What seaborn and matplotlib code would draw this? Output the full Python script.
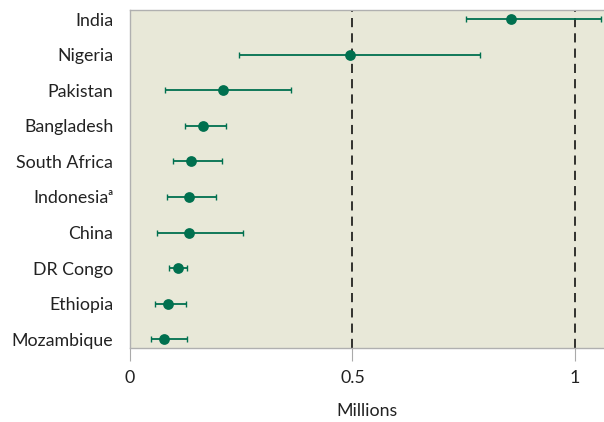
import numpy as np
import pandas as pd
import seaborn as sns
import matplotlib.pyplot as plt

# values in millions
countries = ['India', 'Nigeria', 'Pakistan', 'Bangladesh', 'South Africa',
             'Indonesia\u1d43', 'China', 'DR Congo', 'Ethiopia', 'Mozambique']
estimate = [0.856, 0.494, 0.209, 0.164, 0.137, 0.133, 0.132, 0.108, 0.085, 0.077]
lower = [0.755, 0.245, 0.079, 0.124, 0.097, 0.083, 0.061, 0.088, 0.056, 0.047]
upper = [1.058, 0.787, 0.362, 0.216, 0.207, 0.193, 0.254, 0.128, 0.126, 0.128]

df = pd.DataFrame({'country': countries, 'estimate': estimate,
                   'lower': lower, 'upper': upper})

sns.set_theme(style='white')
plt.rcParams['font.family'] = ['Lato', 'DejaVu Sans']

green = '#00704f'
fig, ax = plt.subplots(figsize=(6.04, 4.22), dpi=100)
fig.subplots_adjust(left=0.215, right=1.0, bottom=0.175, top=0.976)
ax.set_facecolor('#e8e8d8')

y = np.arange(len(df))
ax.errorbar(df['estimate'], y,
            xerr=[df['estimate'] - df['lower'], df['upper'] - df['estimate']],
            fmt='none', ecolor=green, elinewidth=1.3, capsize=2.5, capthick=1.0, zorder=2)
sns.scatterplot(data=df, x='estimate', y=y, color=green, s=60, edgecolor=green,
                linewidth=0, ax=ax, zorder=3)

for v in [0.5, 1.0]:
    ax.axvline(v, color='black', linestyle=(0, (6, 4)), linewidth=1.1, zorder=1)

fs = 12.8
ax.set_xlim(0, 1.065)
ax.set_ylim(9.25, -0.25)
ax.set_yticks(y)
ax.set_yticklabels(df['country'], fontsize=fs, color='#222222')
ax.set_xticks([0, 0.5, 1])
ax.set_xticklabels(['0', '0.5', '1'], fontsize=fs, color='#222222')
ax.set_xlabel('Millions', fontsize=fs, color='#222222', labelpad=12)
ax.set_ylabel('')

ax.tick_params(axis='x', length=9, width=0.8, color='#aaaaaa', pad=7, bottom=True)
ax.tick_params(axis='y', length=0, pad=12)
for side in ['left', 'top', 'bottom']:
    ax.spines[side].set_color('#b0b0b0')
    ax.spines[side].set_linewidth(1.0)
ax.spines['right'].set_visible(False)

fig.savefig('out.png', dpi=100)
